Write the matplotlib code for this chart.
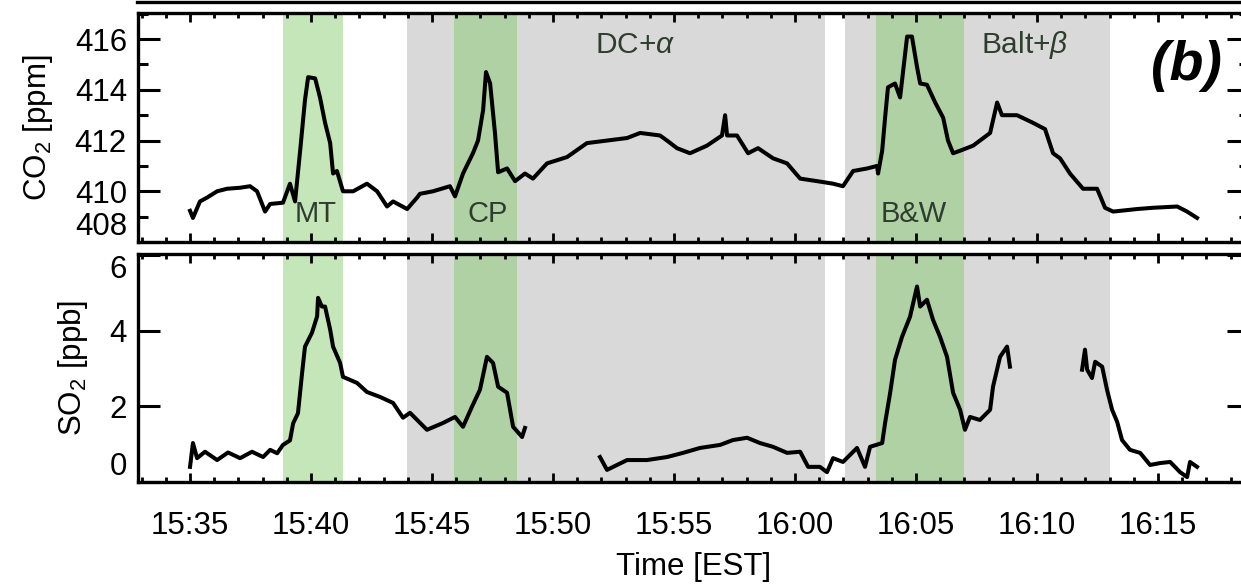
import numpy as np
import matplotlib
matplotlib.use('Agg')
import matplotlib.pyplot as plt
from matplotlib.ticker import MultipleLocator, FuncFormatter
from matplotlib.patches import Rectangle
from matplotlib.lines import Line2D

plt.rcParams['font.family'] = ['Liberation Sans', 'DejaVu Sans']
plt.rcParams['mathtext.fontset'] = 'custom'
plt.rcParams['mathtext.rm'] = 'Liberation Sans'
plt.rcParams['mathtext.it'] = 'Liberation Sans:italic'

# time in minutes after 15:00 EST
co2_min = [35.00, 35.12, 35.41, 35.70, 36.12, 36.53, 37.07, 37.48, 37.77, 38.10,
           38.31, 38.84, 39.13, 39.34, 39.55, 39.75, 39.88, 40.17, 40.37, 40.58,
           40.79, 40.91, 41.07, 41.32, 41.74, 42.31, 42.73, 43.14, 43.39, 43.97,
           44.38, 44.50, 45.04, 45.74, 45.95, 46.28, 46.69, 46.90, 47.11, 47.23,
           47.40, 47.60, 47.73, 48.10, 48.43, 48.84, 49.17, 49.75, 50.58, 51.40,
           52.23, 53.06, 53.60, 54.42, 54.71, 55.12, 55.66, 56.36, 56.98, 57.11,
           57.19, 57.60, 58.06, 58.47, 59.09, 59.67, 60.21, 60.91, 61.57, 61.98,
           62.40, 62.98, 63.39, 63.43, 63.60, 63.72, 63.84, 64.13, 64.34, 64.63,
           64.83, 65.04, 65.17, 65.45, 65.79, 66.12, 66.32, 66.53, 66.82, 67.36,
           68.06, 68.35, 68.55, 69.17, 69.83, 70.33, 70.66, 70.95, 71.36, 71.90,
           72.48, 72.81, 73.14, 74.13, 74.79, 75.79, 76.20, 76.61]
co2_ppm = [409.23, 408.95, 409.6, 409.75, 410.0, 410.1, 410.14, 410.2, 410.0, 409.2,
           409.5, 409.55, 410.3, 409.6, 411.6, 413.6, 414.5, 414.45, 413.7, 412.7,
           411.9, 410.7, 410.8, 410.0, 410.0, 410.3, 410.0, 409.4, 409.6, 409.3,
           409.75, 409.9, 410.0, 410.2, 409.8, 410.7, 411.5, 412.0, 413.2, 414.7,
           414.25, 412.3, 410.75, 410.9, 410.4, 410.7, 410.5, 411.1, 411.35, 411.9,
           412.0, 412.1, 412.3, 412.2, 412.0, 411.7, 411.5, 411.8, 412.2, 413.0,
           412.2, 412.2, 411.5, 411.7, 411.3, 411.1, 410.5, 410.4, 410.3, 410.2,
           410.8, 410.9, 411.0, 410.7, 411.6, 412.9, 414.1, 414.25, 413.7, 416.1,
           416.1, 414.9, 414.25, 414.2, 413.5, 412.9, 412.0, 411.5, 411.6, 411.8,
           412.3, 413.5, 413.0, 413.0, 412.7, 412.45, 411.5, 411.3, 410.7, 410.1,
           410.1, 409.35, 409.2, 409.3, 409.35, 409.4, 409.2, 408.95]

so2_min = [35.00, 35.12, 35.29, 35.62, 36.12, 36.57, 37.07, 37.56, 38.02, 38.31,
           38.60, 38.84, 39.13, 39.26, 39.46, 39.63, 39.75, 40.04, 40.25, 40.29,
           40.45, 40.58, 40.79, 40.91, 41.20, 41.32, 41.90, 42.31, 42.85, 43.39,
           43.80, 44.09, 44.79, 45.45, 45.95, 46.28, 46.65, 46.98, 47.27, 47.52,
           47.73, 48.10, 48.35, 48.72, 48.84, np.nan,
           51.94, 52.23, 53.06, 53.88, 54.71, 55.37, 56.07, 56.90, 57.44, 58.02,
           58.55, 59.09, 59.67, 60.21, 60.54, 61.03, 61.32, 61.57, 61.98, 62.56,
           62.89, 63.10, 63.60, 63.72, 63.93, 64.13, 64.42, 64.75, 65.04, 65.17,
           65.45, 65.70, 65.99, 66.28, 66.53, 66.82, 67.02, 67.23, 67.64, 68.06,
           68.18, 68.47, 68.76, 68.88, np.nan,
           71.86, 71.98, 72.07, 72.27, 72.40, 72.69, 72.89, 73.10, 73.31, 73.51,
           73.84, 74.26, 74.67, 75.08, 75.50, 75.91, 76.20, 76.32, 76.61]
so2_ppb = [0.4, 1.03, 0.63, 0.8, 0.58, 0.78, 0.63, 0.8, 0.66, 0.85,
           0.76, 0.98, 1.1, 1.55, 1.82, 2.88, 3.58, 3.95, 4.38, 4.87,
           4.64, 4.64, 4.03, 3.58, 3.15, 2.78, 2.62, 2.38, 2.25, 2.09,
           1.7, 1.83, 1.38, 1.56, 1.72, 1.46, 1.99, 2.44, 3.31, 3.15,
           2.52, 2.36, 1.46, 1.19, 1.43, np.nan,
           0.66, 0.32, 0.58, 0.58, 0.66, 0.77, 0.9, 0.98, 1.11, 1.17,
           1.03, 0.93, 0.77, 0.8, 0.4, 0.4, 0.26, 0.63, 0.53, 0.9,
           0.4, 0.93, 1.03, 1.56, 2.36, 3.23, 3.84, 4.37, 5.17, 4.64,
           4.82, 4.29, 3.84, 3.31, 2.36, 1.91, 1.38, 1.72, 1.64, 1.91,
           2.52, 3.31, 3.58, 3.05, np.nan,
           2.97, 3.5, 2.97, 2.75, 3.18, 3.05, 2.44, 1.91, 1.59, 1.11,
           0.85, 0.77, 0.45, 0.5, 0.53, 0.26, 0.13, 0.53, 0.4]

gray_spans = [(43.97, 61.24), (62.07, 73.02)]
green_spans = [(38.84, 41.32), (45.91, 48.51), (63.35, 66.98)]
plume_labels = ['MT', 'CP', 'B&W']
plume_x = [40.21, 47.31, 64.92]
region_labels = ['DC+$\\alpha$', 'Balt+$\\beta$']
region_x = [53.39, 69.5]

fig = plt.figure(figsize=(12.41, 5.87), dpi=100)
ax1 = fig.add_axes([0.1112, 0.5877, 0.8953, 0.3902])
ax2 = fig.add_axes([0.1112, 0.1789, 0.8953, 0.3884])

xmin, xmax = 32.85, 78.76
txtcol = '#2f3d2f'

for ax in (ax1, ax2):
    for a, b in gray_spans:
        ax.axvspan(a, b, color='#d9d9d9', lw=0, zorder=0)
    for a, b in green_spans:
        ax.axvspan(a, b, color='#7fc862', alpha=0.45, lw=0, zorder=1)
    ax.set_xlim(xmin, xmax)
    ax.xaxis.set_major_locator(MultipleLocator(5))
    ax.xaxis.set_minor_locator(MultipleLocator(1))
    ax.tick_params(axis='x', which='major', direction='in', length=6.5, width=2,
                   top=True, bottom=True, labelsize=22.5, pad=21)
    ax.tick_params(axis='x', which='minor', direction='in', length=3.6, width=2,
                   top=True, bottom=True)
    ax.tick_params(axis='y', which='major', direction='in', length=15.8, width=2.2,
                   left=True, right=True, labelsize=22.5, pad=8)
    ax.tick_params(axis='y', which='minor', direction='in', length=7.2, width=2.2,
                   left=True, right=True)
    for s in ax.spines.values():
        s.set_linewidth(2.4)

ax1.plot(co2_min, co2_ppm, color='black', lw=2.9, zorder=3)
ax1.set_ylim(408, 417.03)
ax1.yaxis.set_major_locator(MultipleLocator(2))
ax1.yaxis.set_minor_locator(MultipleLocator(1))
ax1.tick_params(axis='x', labelbottom=False)
ax1.set_ylabel('CO$_2$ [ppm]', fontsize=22.5, labelpad=14)

for lab, x in zip(plume_labels, plume_x):
    ax1.text(x, 409.1, lab, fontsize=21, color=txtcol, ha='center', va='center', zorder=4)
for lab, x in zip(region_labels, region_x):
    ax1.text(x, 415.76, lab, fontsize=21.5, color=txtcol, ha='center', va='center', zorder=4)

tb = ax1.text(0.944, 0.77, '(b)', transform=ax1.transAxes, fontsize=40,
              fontweight='bold', fontstyle='italic', ha='center', va='center', zorder=5)
clip = Rectangle((0.85, 0.642), 0.15, 0.358, transform=ax1.transAxes)
tb.set_clip_path(clip)

ax2.plot(so2_min, so2_ppb, color='black', lw=2.9, zorder=3)
ax2.set_ylim(0, 6.03)
ax2.yaxis.set_major_locator(MultipleLocator(2))
ax2.set_ylabel('SO$_2$ [ppb]', fontsize=22.5, labelpad=14)


def fmt(m, pos):
    h = 15 + int(m // 60)
    return '%d:%02d' % (h, int(round(m % 60)))


ax2.xaxis.set_major_formatter(FuncFormatter(fmt))
ax2.set_xlabel('Time [EST]', fontsize=22.5, labelpad=8)

# edge labels sit inside the panels, as in the original
fig.canvas.draw()
for ax, low, high in ((ax1, 408, None), (ax2, 0, 6)):
    locs = ax.yaxis.get_majorticklocs()
    for tick, loc in zip(ax.yaxis.get_major_ticks(len(locs)), locs):
        if abs(loc - low) < 1e-6:
            tick.label1.set_va('bottom')
        if high is not None and abs(loc - high) < 1e-6:
            tick.label1.set_va('top')

# edge of the panel above, cut by the crop
fig.add_artist(Line2D([137 / 1241, 1.0], [1 - 1.5 / 587] * 2, color='black', lw=2.4))

fig.savefig('out.png', dpi=100)
